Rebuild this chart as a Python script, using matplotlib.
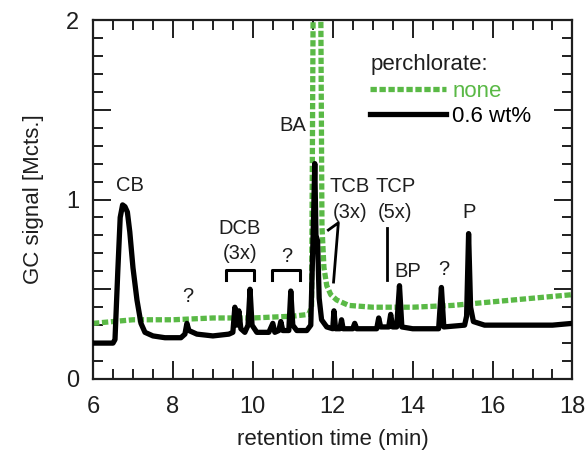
import matplotlib
matplotlib.use("Agg")
import matplotlib.pyplot as plt
from matplotlib.ticker import MultipleLocator, FuncFormatter

plt.rcParams['font.family'] = ['Liberation Sans', 'DejaVu Sans']

# retention time (min) / signal (Mcts.)
t_black = [6.0, 6.3, 6.5, 6.55, 6.62, 6.68, 6.74, 6.80, 6.86, 6.92, 7.0, 7.1, 7.2, 7.3, 7.5,
           7.8, 8.2, 8.3, 8.35, 8.4, 8.6, 9.0, 9.4, 9.5, 9.55, 9.6, 9.65, 9.7, 9.8, 9.88,
           9.93, 9.98, 10.1, 10.4, 10.5, 10.55, 10.65, 10.7, 10.75, 10.9, 10.95, 11.0, 11.1,
           11.35, 11.45, 11.52, 11.55, 11.58, 11.62, 11.66, 11.72, 11.85, 12.0, 12.03, 12.07,
           12.18, 12.22, 12.26, 12.5, 12.55, 12.6, 13.1, 13.15, 13.2, 13.4, 13.45, 13.5,
           13.6, 13.67, 13.73, 14.0, 14.65, 14.72, 14.78, 15.3, 15.35, 15.4, 15.45, 15.52,
           15.8, 16.5, 17.0, 17.5, 18.0]
s_black = [0.20, 0.20, 0.20, 0.22, 0.60, 0.90, 0.97, 0.96, 0.93, 0.82, 0.62, 0.44, 0.31, 0.26, 0.24,
           0.23, 0.23, 0.25, 0.31, 0.27, 0.25, 0.24, 0.25, 0.26, 0.40, 0.30, 0.38, 0.28, 0.26, 0.30,
           0.50, 0.30, 0.26, 0.26, 0.31, 0.26, 0.27, 0.32, 0.27, 0.27, 0.49, 0.30, 0.27,
           0.27, 0.30, 0.90, 1.20, 0.80, 0.77, 0.45, 0.33, 0.29, 0.28, 0.38, 0.28,
           0.28, 0.33, 0.28, 0.28, 0.31, 0.28, 0.28, 0.34, 0.29, 0.29, 0.36, 0.29,
           0.29, 0.52, 0.29, 0.28, 0.28, 0.51, 0.29, 0.30, 0.35, 0.81, 0.40, 0.32,
           0.30, 0.30, 0.30, 0.30, 0.31]

t_green = [6.0, 6.5, 7.0, 8.0, 9.0, 10.0, 11.0, 11.4, 11.47, 11.51, 11.70, 11.73, 11.78,
           11.85, 11.95, 12.1, 12.4, 13.0, 14.0, 15.0, 16.0, 17.0, 18.0]
s_green = [0.31, 0.32, 0.33, 0.33, 0.34, 0.34, 0.35, 0.36, 0.40, 2.10, 2.10, 0.85, 0.62,
           0.52, 0.47, 0.44, 0.41, 0.40, 0.40, 0.41, 0.43, 0.45, 0.47]

green = "#5ab946"
ink = "#1e1e1e"

fig = plt.figure(figsize=(5.88, 4.54), dpi=100)
ax = fig.add_axes([0.1582, 0.1652, 0.8154, 0.7907])

ax.plot(t_green, s_green, color=green, lw=3.8, ls=(0, (1.2, 0.5)), label="none", zorder=2)
ax.plot(t_black, s_black, color="black", lw=3.8, label="0.6 wt%", zorder=3)

ax.set_xlim(6, 18)
ax.set_ylim(0, 2)

ax.xaxis.set_major_locator(MultipleLocator(2))
ax.xaxis.set_minor_locator(MultipleLocator(0.5))
ax.yaxis.set_major_locator(MultipleLocator(0.5))
ax.yaxis.set_minor_locator(MultipleLocator(0.1))
ax.yaxis.set_major_formatter(FuncFormatter(lambda v, p: "%d" % v if abs(v - round(v)) < 1e-6 else ""))
ax.tick_params(which="both", direction="in", top=True, right=True, width=1.4, labelsize=17, colors=ink)
ax.tick_params(which="major", length=13)
ax.tick_params(axis="x", which="major", pad=12)
ax.tick_params(axis="y", which="major", pad=10)
ax.tick_params(which="minor", length=7)
for sp in ax.spines.values():
    sp.set_linewidth(1.6)
    sp.set_color(ink)

ax.set_xlabel("retention time (min)", fontsize=16, color=ink, labelpad=8)
ax.set_ylabel("GC signal [Mcts.]", fontsize=16, color=ink, labelpad=16)

# peak labels
fs = 14.5
ax.text(6.93, 1.08, "CB", fontsize=fs, ha="center", va="center", color=ink)
ax.text(8.36, 0.46, "?", fontsize=fs, ha="center", va="center", color=ink)
ax.text(9.68, 0.84, "DCB", fontsize=fs, ha="center", va="center", color=ink)
ax.text(9.68, 0.70, "(3x)", fontsize=fs, ha="center", va="center", color=ink)
ax.plot([9.33, 9.33, 10.04, 10.04], [0.55, 0.61, 0.61, 0.55], color="black", lw=2.2)
ax.plot([10.49, 10.49, 11.19, 11.19], [0.55, 0.61, 0.61, 0.55], color="black", lw=2.2)
ax.text(10.86, 0.68, "?", fontsize=fs, ha="center", va="center", color=ink)
ax.text(11.0, 1.41, "BA", fontsize=fs, ha="center", va="center", color=ink)
ax.text(12.42, 1.07, "TCB", fontsize=fs, ha="center", va="center", color=ink)
ax.text(12.44, 0.93, "(3x)", fontsize=fs, ha="center", va="center", color=ink)
ax.plot([11.89, 12.14, 12.02], [0.83, 0.87, 0.54], color="black", lw=2)
ax.text(13.57, 1.07, "TCP", fontsize=fs, ha="center", va="center", color=ink)
ax.text(13.57, 0.93, "(5x)", fontsize=fs, ha="center", va="center", color=ink)
ax.plot([13.37, 13.37], [0.84, 0.55], color="black", lw=2)
ax.text(13.87, 0.60, "BP", fontsize=fs, ha="center", va="center", color=ink)
ax.text(14.77, 0.61, "?", fontsize=fs, ha="center", va="center", color=ink)
ax.text(15.4, 0.93, "P", fontsize=fs, ha="center", va="center", color=ink)

leg = ax.legend(title="perchlorate:", loc="upper left", bbox_to_anchor=(0.578, 0.905),
                frameon=False, fontsize=16, title_fontsize=16, handlelength=3.4,
                handletextpad=0.3, labelspacing=0.2, borderpad=0, borderaxespad=0,
                labelcolor="linecolor")
leg._legend_box.align = "left"
leg._legend_box.sep = 4
leg.get_title().set_color(ink)

fig.savefig("out.png", dpi=100)
